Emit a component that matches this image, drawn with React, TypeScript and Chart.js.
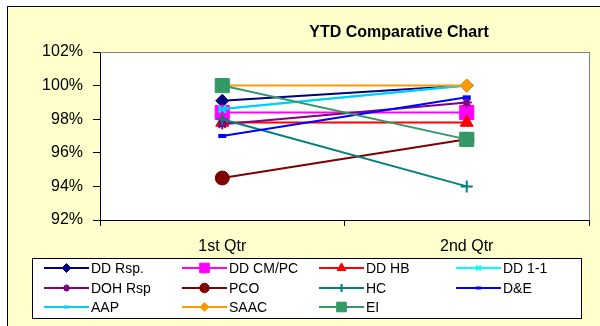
import React, { useEffect, useRef } from "react";
import { Chart, registerables } from "chart.js";
import { drawPoint } from "chart.js/helpers";

Chart.register(...registerables);

const categories = ["1st Qtr", "2nd Qtr"];
const seriesNames = ["DD Rsp.", "DD CM/PC", "DD HB", "DD 1-1", "DOH Rsp", "PCO", "HC", "D&E", "AAP", "SAAC", "EI"];
const ddRsp = [99.1, 100.0];
const ddCmPc = [98.4, 98.4];
const ddHb = [97.8, 97.8];
const dd11 = [98.6, 100.0];
const dohRsp = [97.7, 99.0];
const pco = [94.5, 96.8];
const hc = [98.0, 94.0];
const dAndE = [97.0, 99.3];
const aap = [98.6, 100.0];
const saac = [100.0, 100.0];
const ei = [100.0, 96.8];
const seriesValues = [ddRsp, ddCmPc, ddHb, dd11, dohRsp, pco, hc, dAndE, aap, saac, ei];
const yTickValues = [92, 94, 96, 98, 100, 102];
const chartTitle = "YTD Comparative Chart";

const colors = ["#000080", "#FF00FF", "#FF0000", "#00FFFF", "#800080", "#800000", "#008080", "#0000FF", "#00CCFF", "#FF9900", "#339966"];
const styles: any[] = ["rectRot", "rect", "triangle", "crossRot", "star", "circle", "cross", "line", "line", "rectRot", "rect"];
const radii = [6.5, 10, 7.5, 5, 5, 7, 6, 4, 4, 6.5, 10];
const pointBorderWidths = [1, 1, 1, 2, 2, 1, 2, 4, 4, 1, 1];

const FONT = "'Liberation Sans', Arial, sans-serif";
const W = 600;
const H = 326;
const PAGE_BG = "#FFFFCC";

const bgPlugin = {
  id: "bgPlugin",
  afterDraw(chart: any) {
    const { ctx, chartArea } = chart;
    ctx.save();
    // title
    ctx.fillStyle = "#000";
    ctx.font = `bold 16px ${FONT}`;
    ctx.textAlign = "center";
    ctx.textBaseline = "middle";
    ctx.fillText(chartTitle, chartArea.right - 190, 33);
    // legend box
    const lx = 32.5, ly = 258.5, lw = 549, lh = 60;
    ctx.fillStyle = "#FFFFFF";
    ctx.fillRect(lx, ly, lw, lh);
    ctx.strokeStyle = "#000";
    ctx.lineWidth = 1;
    ctx.strokeRect(lx, ly, lw, lh);
    const colX = [44, 182, 319, 456];
    const rowY = [268, 288, 307];
    seriesNames.forEach((name, i) => {
      const x0 = colX[i % 4];
      const y = rowY[Math.floor(i / 4)];
      ctx.strokeStyle = colors[i];
      ctx.lineWidth = 2;
      ctx.beginPath();
      ctx.moveTo(x0, y);
      ctx.lineTo(x0 + 45, y);
      ctx.stroke();
      ctx.fillStyle = colors[i];
      const bw = pointBorderWidths[i] > 1 ? Math.min(pointBorderWidths[i], 3) : 1;
      ctx.lineWidth = bw;
      drawPoint(ctx, { pointStyle: styles[i], radius: radii[i] * 0.68, rotation: 0, borderWidth: bw } as any, x0 + 22.5, y);
      ctx.fillStyle = "#000";
      ctx.font = `normal 14px ${FONT}`;
      ctx.textAlign = "left";
      ctx.textBaseline = "middle";
      ctx.fillText(name, x0 + 47, y + 1);
    });
    // outer border and plot border (on top)
    ctx.fillStyle = "#000000";
    ctx.fillRect(7, 6, 1, H);
    ctx.fillRect(7, 6, W, 1);
    ctx.fillStyle = "#808080";
    ctx.fillRect(chartArea.left, chartArea.top, chartArea.right - chartArea.left + 1, 1);
    ctx.fillRect(chartArea.right, chartArea.top, 1, chartArea.bottom - chartArea.top);
    // backgrounds painted behind everything already drawn
    ctx.globalCompositeOperation = "destination-over";
    ctx.fillStyle = "#FFFFFF";
    ctx.fillRect(chartArea.left, chartArea.top, chartArea.right - chartArea.left, chartArea.bottom - chartArea.top);
    ctx.fillStyle = PAGE_BG;
    ctx.fillRect(7, 6, W, H);
    ctx.fillStyle = "#FFFFFF";
    ctx.fillRect(0, 0, W, H);
    ctx.restore();
  },
};

export default function App() {
  const ref = useRef<HTMLCanvasElement>(null);
  useEffect(() => {
    document.body.style.margin = "0";
    if (!ref.current) return;
    Chart.defaults.font.family = FONT;
    const chart = new Chart(ref.current, {
      type: "line",
      data: {
        labels: categories,
        datasets: seriesNames.map((name, i) => ({
          label: name,
          data: seriesValues[i],
          borderColor: colors[i],
          backgroundColor: colors[i],
          borderWidth: 2,
          pointStyle: styles[i],
          pointRadius: radii[i],
          pointBackgroundColor: colors[i],
          pointBorderColor: colors[i],
          pointBorderWidth: pointBorderWidths[i],
          tension: 0,
          clip: false as any,
          order: seriesNames.length - i,
        })),
      },
      options: {
        animation: false,
        responsive: false,
        events: [],
        layout: { padding: { top: 52, right: 7, left: 0, bottom: 0 } },
        plugins: { legend: { display: false }, title: { display: false }, tooltip: { enabled: false } },
        scales: {
          x: {
            type: "category",
            offset: true,
            grid: { offset: true, drawOnChartArea: false, drawTicks: true, tickLength: 6, color: "#000" },
            border: { color: "#000", width: 1 },
            ticks: { color: "#000", font: { size: 16, family: FONT, weight: "normal" }, padding: 11, maxRotation: 0 },
            afterFit: (scale: any) => { scale.height = 106; },
          },
          y: {
            min: 92,
            max: 102,
            afterBuildTicks: (scale: any) => { scale.ticks = yTickValues.map((v) => ({ value: v })); },
            grid: { drawOnChartArea: false, drawTicks: true, tickLength: 7, color: "#000" },
            border: { color: "#000", width: 1 },
            ticks: { color: "#000", font: { size: 16, family: FONT, weight: "normal" }, padding: 10, callback: (v: any) => `${v}%` },
            afterFit: (scale: any) => { scale.width = 100; },
          },
        },
      },
      plugins: [bgPlugin],
    });
    return () => chart.destroy();
  }, []);
  return (
    <div style={{ position: "relative", width: W, height: H, overflow: "hidden", background: PAGE_BG }}>
      <canvas ref={ref} width={W} height={H} style={{ position: "absolute", left: 0, top: 0, display: "block", width: W, height: H }} />
    </div>
  );
}
